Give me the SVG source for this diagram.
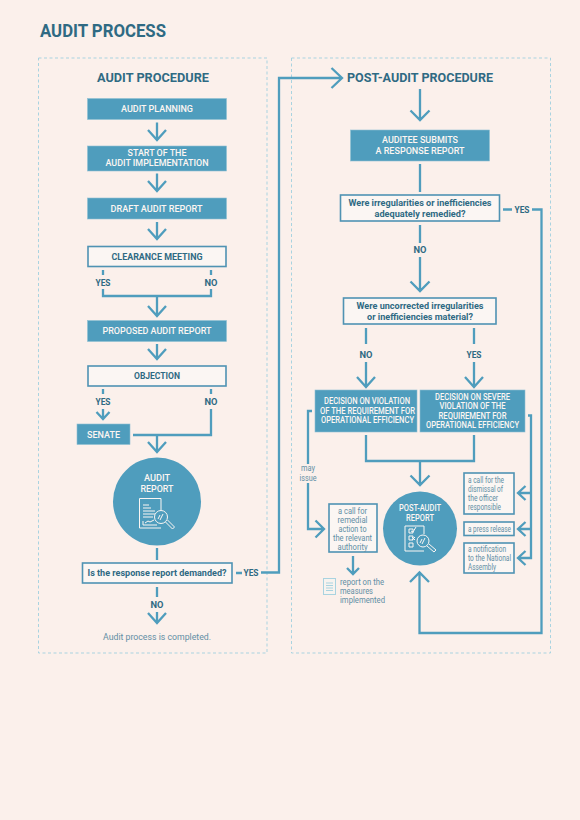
<svg xmlns="http://www.w3.org/2000/svg" width="580" height="820" viewBox="0 0 580 820">
<style>
text{font-family:"Roboto","Liberation Sans",sans-serif;text-anchor:middle;lengthAdjust:spacingAndGlyphs}
.t{font-weight:700;fill:#2f6a83}
.w{font-weight:500;fill:#fdf6f2;font-size:9.500px}
.s{font-size:8.400px}
.d{font-weight:700;fill:#2f6a83;font-size:9.500px}
.r{font-weight:400;fill:#628fa5;font-size:8.500px}
.l{text-anchor:start}
.f{fill:#4f9dbd;stroke:#8fc0d3;stroke-width:.6}
.o{fill:#fbf6f3;stroke:#4f93b3;stroke-width:1.6}
.c{fill:none;stroke:#4f9dbd;stroke-width:2.300}
.i{fill:none;stroke:#fbf6f3;stroke-width:1}
.b{fill:none;stroke:#a9d3e0;stroke-width:1;stroke-dasharray:3 2.500}
</style>
<rect width="580" height="820" fill="#fbf0eb"/>
<text class="t l" x="40" y="37" font-size="18.500" textLength="126" lengthAdjust="spacingAndGlyphs">AUDIT PROCESS</text>
<rect class="b" x="38.500" y="58" width="228.500" height="595"/>
<rect class="b" x="291.500" y="58" width="259" height="595"/>
<text class="t" x="153" y="82" font-size="13.500" textLength="112" lengthAdjust="spacingAndGlyphs">AUDIT PROCEDURE</text>
<text class="t" x="420" y="82" font-size="13.500" textLength="146" lengthAdjust="spacingAndGlyphs">POST-AUDIT PROCEDURE</text>
<g id="connectors" class="c">
<path d="M157 122.500V140M148 130l9 10 9-10"/>
<path d="M157 173.500V191M148 181l9 10 9-10"/>
<path d="M157 222V239M148 229l9 10 9-10"/>
<path d="M103 270v5M211 270v5M103 289v7H211v-7M157 296V316M148 306l9 10 9-10"/>
<path d="M157 344V359M148 349l9 10 9-10"/>
<path d="M103 389v5M211 389v5M103 409V419M96.500 412l6.500 7 6.500-7"/>
<path d="M211 409V435H133M157 435V452M148 442l9 10 9-10"/>
<path d="M157 548V560M157 587V597M157 612V623M148 613l9 10 9-10"/>
<path d="M236 573H242M261 572.500H279V78H342M331.500 68l10.500 10-10.500 10"/>
<path d="M420 89V120M410.500 110.500l9.500 9.500 9.500-9.500"/>
<path d="M420 164V192M420 225V243M420 257V291M410.500 281.500l9.500 9.500 9.500-9.500"/>
<path d="M503 209.500H512M532 209.500H541.500V633H419.500V572.500M410 582l9.500-9.500 9.500 9.500"/>
<path d="M366 328V344M366 362V387M357 377l9 10 9-10"/>
<path d="M474 328V344M474 362V387M465 377l9 10 9-10"/>
<path d="M366 435V461H474V435M420 461V485M410.500 475.500l9.500 9.500 9.500-9.500"/>
<path d="M312 411H308V464M308 483V529H323M315.500 520.500l8.500 8.500-8.500 8.500"/>
<path d="M353 556V574M347 568l6 6 6-6"/>
<path d="M528 415.500H531V558H519M531 493H519M531 529H519M525.500 486l-7.500 7 7.500 7M525.500 522l-7.500 7 7.500 7M525.500 551l-7.500 7 7.500 7"/>
</g>
<g id="labels">
<text class="d" x="103" y="286" textLength="15" lengthAdjust="spacingAndGlyphs">YES</text><text class="d" x="211" y="286" textLength="13" lengthAdjust="spacingAndGlyphs">NO</text>
<text class="d" x="103" y="405" textLength="15" lengthAdjust="spacingAndGlyphs">YES</text><text class="d" x="211" y="405" textLength="13" lengthAdjust="spacingAndGlyphs">NO</text>
<text class="d" x="251" y="576" textLength="15" lengthAdjust="spacingAndGlyphs">YES</text><text class="d" x="157" y="607.500" textLength="13" lengthAdjust="spacingAndGlyphs">NO</text>
<text class="r" x="157" y="640" style="font-size:9.500px" textLength="108" lengthAdjust="spacingAndGlyphs">Audit process is completed.</text>
<text class="d" x="522" y="212.500" textLength="15" lengthAdjust="spacingAndGlyphs">YES</text><text class="d" x="420" y="253" textLength="13" lengthAdjust="spacingAndGlyphs">NO</text>
<text class="d" x="366" y="357.500" textLength="13" lengthAdjust="spacingAndGlyphs">NO</text><text class="d" x="474" y="357.500" textLength="15" lengthAdjust="spacingAndGlyphs">YES</text>
<text class="r" x="308" y="471" textLength="14" lengthAdjust="spacingAndGlyphs">may</text><text class="r" x="308" y="480.500" textLength="17" lengthAdjust="spacingAndGlyphs">issue</text>
</g>
<g id="n-planning"><rect class="f" x="87.500" y="98.500" width="139" height="21"/><text class="w" x="157" y="112" textLength="72" lengthAdjust="spacingAndGlyphs">AUDIT PLANNING</text></g>
<g id="n-start"><rect class="f" x="87.500" y="146" width="139" height="25"/><text class="w" x="157" y="156" textLength="59" lengthAdjust="spacingAndGlyphs">START OF THE</text><text class="w" x="157" y="166" textLength="103" lengthAdjust="spacingAndGlyphs">AUDIT IMPLEMENTATION</text></g>
<g id="n-draft"><rect class="f" x="87.500" y="198" width="139" height="21"/><text class="w" x="156.500" y="211.500" textLength="92" lengthAdjust="spacingAndGlyphs">DRAFT AUDIT REPORT</text></g>
<g id="n-clearance"><rect class="o" x="88" y="246.500" width="138" height="20"/><text class="d" x="157" y="259.500" textLength="91" lengthAdjust="spacingAndGlyphs">CLEARANCE MEETING</text></g>
<g id="n-proposed"><rect class="f" x="87.500" y="320.500" width="139" height="21"/><text class="w" x="157" y="334" textLength="109" lengthAdjust="spacingAndGlyphs">PROPOSED AUDIT REPORT</text></g>
<g id="n-objection"><rect class="o" x="88" y="366" width="138" height="20"/><text class="d" x="157" y="379" textLength="46" lengthAdjust="spacingAndGlyphs">OBJECTION</text></g>
<g id="n-senate"><rect class="f" x="77" y="424" width="53" height="20.500"/><text class="w" x="103.500" y="437.500" textLength="33" lengthAdjust="spacingAndGlyphs">SENATE</text></g>
<g id="n-audit-report"><circle cx="157" cy="501.500" r="44" fill="#4f9dbd"/><text class="w" x="157" y="480.500" textLength="26" lengthAdjust="spacingAndGlyphs">AUDIT</text><text class="w" x="157" y="491.500" textLength="33" lengthAdjust="spacingAndGlyphs">REPORT</text>
<path class="i" d="M161 528H139.500V498.500H161V510"/><path class="i" d="M143 505h6M143 508h8M143 511h12M143 514h12M143 517h10M143 525v-4M143 525h14M145 523l3-2 2 1 4-2"/>
<circle class="i" cx="161" cy="517" r="6.500"/><path class="i" d="M160 520l3-6M158 519l2-4M165.500 522l7 7 2-2-7-7"/></g>
<g id="n-demanded"><rect class="o" x="82.500" y="563" width="149.500" height="20"/><text class="d" x="157" y="576" textLength="139" lengthAdjust="spacingAndGlyphs">Is the response report demanded?</text></g>
<g id="n-auditee"><rect class="f" x="350.500" y="130" width="139" height="31"/><text class="w" x="420" y="142.500" textLength="76" lengthAdjust="spacingAndGlyphs">AUDITEE SUBMITS</text><text class="w" x="420" y="154" textLength="89" lengthAdjust="spacingAndGlyphs">A RESPONSE REPORT</text></g>
<g id="n-remedied"><rect class="o" x="340.500" y="195" width="159" height="26"/><text class="d" x="420" y="205.500" textLength="143" lengthAdjust="spacingAndGlyphs">Were irregularities or inefficiencies</text><text class="d" x="420" y="216.500" textLength="91" lengthAdjust="spacingAndGlyphs">adequately remedied?</text></g>
<g id="n-material"><rect class="o" x="343.500" y="298" width="152.500" height="26"/><text class="d" x="420" y="308.500" textLength="127" lengthAdjust="spacingAndGlyphs">Were uncorrected irregularities</text><text class="d" x="420" y="319.500" textLength="106" lengthAdjust="spacingAndGlyphs">or inefficiencies material?</text></g>
<g id="n-violation"><rect class="f" x="315" y="390" width="102" height="42"/><text class="w s" x="367" y="404" textLength="86" lengthAdjust="spacingAndGlyphs">DECISION ON VIOLATION</text><text class="w s" x="367.500" y="413.500" textLength="95" lengthAdjust="spacingAndGlyphs">OF THE REQUIREMENT FOR</text><text class="w s" x="367.500" y="423" textLength="93" lengthAdjust="spacingAndGlyphs">OPERATIONAL EFFICIENCY</text></g>
<g id="n-severe"><rect class="f" x="420" y="390" width="105" height="42"/><text class="w s" x="472.500" y="399.500" textLength="75" lengthAdjust="spacingAndGlyphs">DECISION ON SEVERE</text><text class="w s" x="472.500" y="409" textLength="66" lengthAdjust="spacingAndGlyphs">VIOLATION OF THE</text><text class="w s" x="472.500" y="418.500" textLength="68" lengthAdjust="spacingAndGlyphs">REQUIREMENT FOR</text><text class="w s" x="472.500" y="428" textLength="93" lengthAdjust="spacingAndGlyphs">OPERATIONAL EFFICIENCY</text></g>
<g id="n-post-report"><circle cx="420" cy="528.500" r="37" fill="#4f9dbd"/><text class="w s" x="420" y="511" textLength="42" lengthAdjust="spacingAndGlyphs">POST-AUDIT</text><text class="w s" x="420" y="520.500" textLength="28" lengthAdjust="spacingAndGlyphs">REPORT</text>
<path class="i" d="M424 551H405V526H424V534"/><path class="i" d="M409 529h4v4h-4zM409 536h4v4h-4zM409 543h4v4h-4zM411 531l2 1 3-5M415 537l-3 3M412 537l3 3"/>
<circle class="i" cx="423" cy="541" r="6"/><path class="i" d="M422 544l3-6M420 543l2-4M427 546l7 6 2-2-7-6"/></g>
<g id="n-remedial"><rect class="o" x="329" y="504" width="48" height="48"/><text class="r" x="352.500" y="513.500" textLength="29" lengthAdjust="spacingAndGlyphs">a call for</text><text class="r" x="352.500" y="522.500" textLength="30" lengthAdjust="spacingAndGlyphs">remedial</text><text class="r" x="352.500" y="531.500" textLength="28" lengthAdjust="spacingAndGlyphs">action to</text><text class="r" x="352.500" y="540.500" textLength="39" lengthAdjust="spacingAndGlyphs">the relevant</text><text class="r" x="352.500" y="549.500" textLength="30" lengthAdjust="spacingAndGlyphs">authority</text></g>
<g id="n-measures"><rect x="323.500" y="578.500" width="12" height="16" fill="#f7f3ef" stroke="#a9d3e0"/><path d="M326 583h7M326 585.500h7M326 588h7M326 590.500h7" stroke="#a9d3e0" fill="none"/><text class="r l" x="340" y="584.500" textLength="44" lengthAdjust="spacingAndGlyphs">report on the</text><text class="r l" x="340" y="593.500" textLength="33" lengthAdjust="spacingAndGlyphs">measures</text><text class="r l" x="340" y="602.500" textLength="45" lengthAdjust="spacingAndGlyphs">implemented</text></g>
<g id="n-dismissal"><rect class="o" x="464" y="473" width="50" height="41"/><text class="r l" x="468" y="482.500" textLength="36" lengthAdjust="spacingAndGlyphs">a call for the</text><text class="r l" x="468" y="491.500" textLength="35" lengthAdjust="spacingAndGlyphs">dismissal of</text><text class="r l" x="468" y="500.500" textLength="30" lengthAdjust="spacingAndGlyphs">the officer</text><text class="r l" x="468" y="509.500" textLength="33" lengthAdjust="spacingAndGlyphs">responsible</text></g>
<g id="n-press"><rect class="o" x="464" y="522" width="50" height="13.500"/><text class="r l" x="468" y="531.500" textLength="43" lengthAdjust="spacingAndGlyphs">a press release</text></g>
<g id="n-notification"><rect class="o" x="464" y="543" width="50" height="30"/><text class="r l" x="468" y="551.500" textLength="38" lengthAdjust="spacingAndGlyphs">a notification</text><text class="r l" x="468" y="560.500" textLength="43" lengthAdjust="spacingAndGlyphs">to the National</text><text class="r l" x="468" y="569.500" textLength="28" lengthAdjust="spacingAndGlyphs">Assembly</text></g>
</svg>
